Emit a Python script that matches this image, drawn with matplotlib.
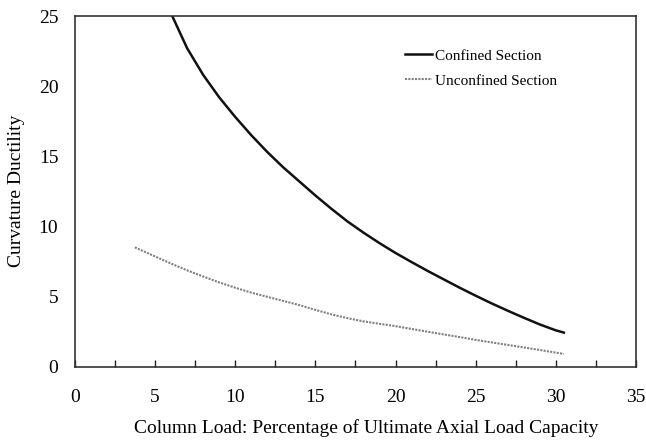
import matplotlib
matplotlib.use("Agg")
import matplotlib.pyplot as plt
from matplotlib.ticker import MultipleLocator

# values
confined_x = [6.07, 7, 8, 9, 10, 11, 12, 13, 14, 15, 16, 17, 18, 19, 20,
              21, 22, 23, 24, 25, 26, 27, 28, 29, 30, 30.5]
confined_y = [25.0, 22.7, 20.8, 19.2, 17.8, 16.5, 15.3, 14.2, 13.2, 12.2, 11.25,
              10.35, 9.55, 8.8, 8.1, 7.45, 6.82, 6.22, 5.62, 5.05, 4.5, 3.98,
              3.48, 3.0, 2.58, 2.42]

unconfined_x = [3.74, 5, 6, 7, 8, 9, 10, 11, 12, 13, 14, 15, 16, 17, 18, 19,
                20, 21, 22, 23, 24, 25, 26, 27, 28, 29, 30, 30.5]
unconfined_y = [8.5, 7.85, 7.34, 6.86, 6.42, 6.0, 5.62, 5.27, 4.97, 4.68, 4.38,
                4.04, 3.72, 3.45, 3.22, 3.05, 2.88, 2.68, 2.48, 2.29, 2.1, 1.9,
                1.72, 1.54, 1.36, 1.18, 0.99, 0.9]

plt.rcParams["font.family"] = ["Liberation Serif", "DejaVu Serif"]

fig = plt.figure(figsize=(6.46, 4.4), dpi=100)
ax = fig.add_axes([0.116, 0.167, 0.8685, 0.7966])

ax.plot(confined_x, confined_y, color="#111111", lw=1.8, label="Confined Section")
ax.plot(unconfined_x, unconfined_y, color="#808080", lw=1.5,
        linestyle=(0, (1, 0.6)), label="Unconfined Section")

ax.set_xlim(0, 35)
ax.set_ylim(0, 25)
ax.xaxis.set_major_locator(MultipleLocator(5))
ax.xaxis.set_minor_locator(MultipleLocator(2.5))
ax.yaxis.set_major_locator(MultipleLocator(5))
ax.tick_params(axis="x", which="both", direction="in", length=5, width=1.0,
               color="#222222", pad=16, labelsize=14)
ax.tick_params(axis="y", which="both", length=0, pad=12, labelsize=14)
for sp in ax.spines.values():
    sp.set_color("#333333")
    sp.set_linewidth(1.2)

ax.set_xlabel("Column Load: Percentage of Ultimate Axial Load Capacity",
              fontsize=14)
ax.xaxis.set_label_coords(0.52, -0.15)
ax.set_ylabel("Curvature Ductility", fontsize=14, labelpad=10)

ax.legend(loc="upper left", bbox_to_anchor=(0.588, 0.906), frameon=False,
          fontsize=11, borderpad=0, borderaxespad=0, handlelength=1.8,
          handletextpad=0.15, labelspacing=0.75)

fig.savefig("out.png", dpi=100)
